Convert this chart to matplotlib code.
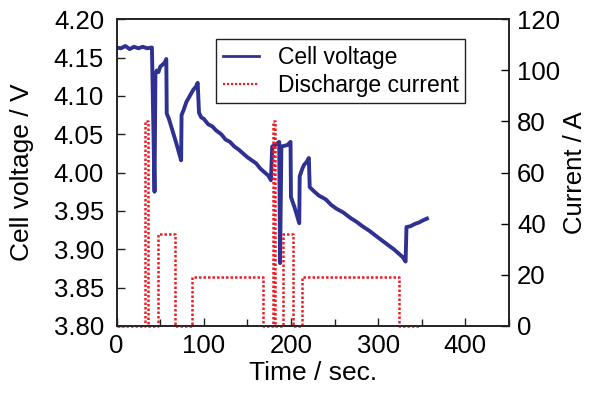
import matplotlib
matplotlib.use("Agg")
import matplotlib.pyplot as plt
from matplotlib.ticker import MultipleLocator, FormatStrFormatter

plt.rcParams["font.family"] = ["Liberation Sans", "DejaVu Sans"]

NAVY = "#2E3192"
RED = "#EE1C25"

# cell voltage (time in s, voltage in V)
volt_t = [0, 5, 10, 15, 20, 25, 30, 35, 40.5, 43.5, 44.5, 46, 48, 50, 52, 55, 57, 57.5,
          60, 64, 68, 71, 74, 74.5, 77, 80, 84, 88, 91, 93, 94.5, 97, 100, 105, 110,
          114, 120, 125, 130, 135, 140, 145, 150, 155, 160, 165, 170, 174, 177,
          178.5, 182, 186.5, 187.5, 189, 193, 196, 199.5, 200, 204, 209.5, 210, 213, 215, 218, 220.5, 221.5,
          226, 232, 240, 246, 252, 260, 268, 275, 282, 290, 298, 305, 312, 318, 324, 328, 331.5,
          332.5, 337, 342, 347, 352, 356]
volt_v = [4.163, 4.162, 4.165, 4.161, 4.164, 4.162, 4.164, 4.162, 4.163, 3.975, 4.128, 4.133, 4.131, 4.138, 4.140, 4.143, 4.148, 4.077,
          4.070, 4.055, 4.040, 4.028, 4.016, 4.075, 4.082, 4.092, 4.100, 4.108, 4.112, 4.117, 4.078, 4.072, 4.070, 4.063, 4.060,
          4.055, 4.050, 4.043, 4.040, 4.034, 4.030, 4.025, 4.020, 4.016, 4.012, 4.005, 4.000, 3.996, 3.990,
          4.034, 4.036, 4.040, 3.882, 4.034, 4.035, 4.036, 4.040, 3.968, 3.955, 3.934, 3.995, 4.005, 4.010, 4.014, 4.019, 3.981,
          3.976, 3.970, 3.965, 3.958, 3.953, 3.948, 3.941, 3.936, 3.930, 3.924, 3.917, 3.911, 3.905, 3.900, 3.894, 3.890, 3.884,
          3.929, 3.930, 3.933, 3.935, 3.938, 3.940]

# discharge current (time in s, current in A) - step profile
curr_t = [0, 32.5, 32.5, 36.3, 36.3, 47, 47, 66.8, 66.8, 86.6, 86.6, 167.7, 167.7,
          179, 179, 182, 182, 190.5, 190.5, 202.4, 202.4, 212.6, 212.6, 323.4, 323.4, 347]
curr_a = [0, 0, 80, 80, 0, 0, 36, 36, 0, 0, 19, 19, 0,
          0, 80, 80, 0, 0, 36, 36, 0, 0, 19, 19, 0, 0]

fig = plt.figure(figsize=(5.89, 3.99), dpi=100)
ax = fig.add_axes([0.198, 0.183, 0.666, 0.769])
ax2 = ax.twinx()

l1, = ax.plot(volt_t, volt_v, color=NAVY, linewidth=2.8, label="Cell voltage")
l2, = ax2.plot(curr_t, curr_a, color=RED, linewidth=1.8, dashes=(1.0, 0.8),
               label="Discharge current", clip_on=False)

ax.set_xlim(0, 450)
ax.set_ylim(3.80, 4.20)
ax2.set_ylim(0, 120)

ax.xaxis.set_major_locator(MultipleLocator(100))
ax.xaxis.set_minor_locator(MultipleLocator(50))
ax.yaxis.set_major_locator(MultipleLocator(0.05))
ax2.yaxis.set_major_locator(MultipleLocator(20))
ax.yaxis.set_major_formatter(FormatStrFormatter("%.2f"))

ax.tick_params(axis="both", which="both", direction="in", labelsize=18.5, width=1.0, color="#222222")
ax.tick_params(axis="x", which="major", length=6, pad=6)
ax.tick_params(axis="x", which="minor", length=5)
ax.tick_params(axis="y", length=6, pad=9)
ax2.tick_params(axis="y", direction="in", length=6, labelsize=18.5, width=1.0, pad=6)

for a in (ax, ax2):
    for s in a.spines.values():
        s.set_linewidth(1.2)
        s.set_color("#222222")

ax.set_xlabel("Time / sec.", fontsize=19, labelpad=2)
ax.set_ylabel("Cell voltage / V", fontsize=19, labelpad=14)
ax2.set_ylabel("Current / A", fontsize=18.5, labelpad=2)

leg = ax2.legend([l1, l2], ["Cell voltage", "Discharge current"],
                 loc="upper left", bbox_to_anchor=(0.253, 0.935),
                 fontsize=16.5, frameon=True, fancybox=False,
                 edgecolor="#222222", framealpha=1, handlelength=1.6,
                 borderpad=0.3, labelspacing=0.2, handletextpad=0.8,
                 borderaxespad=0)
leg.get_frame().set_linewidth(1.0)
leg.get_lines()[0].set_linewidth(2.0)
leg.get_lines()[1].set_linewidth(1.6)

fig.savefig("out.png", dpi=100)
